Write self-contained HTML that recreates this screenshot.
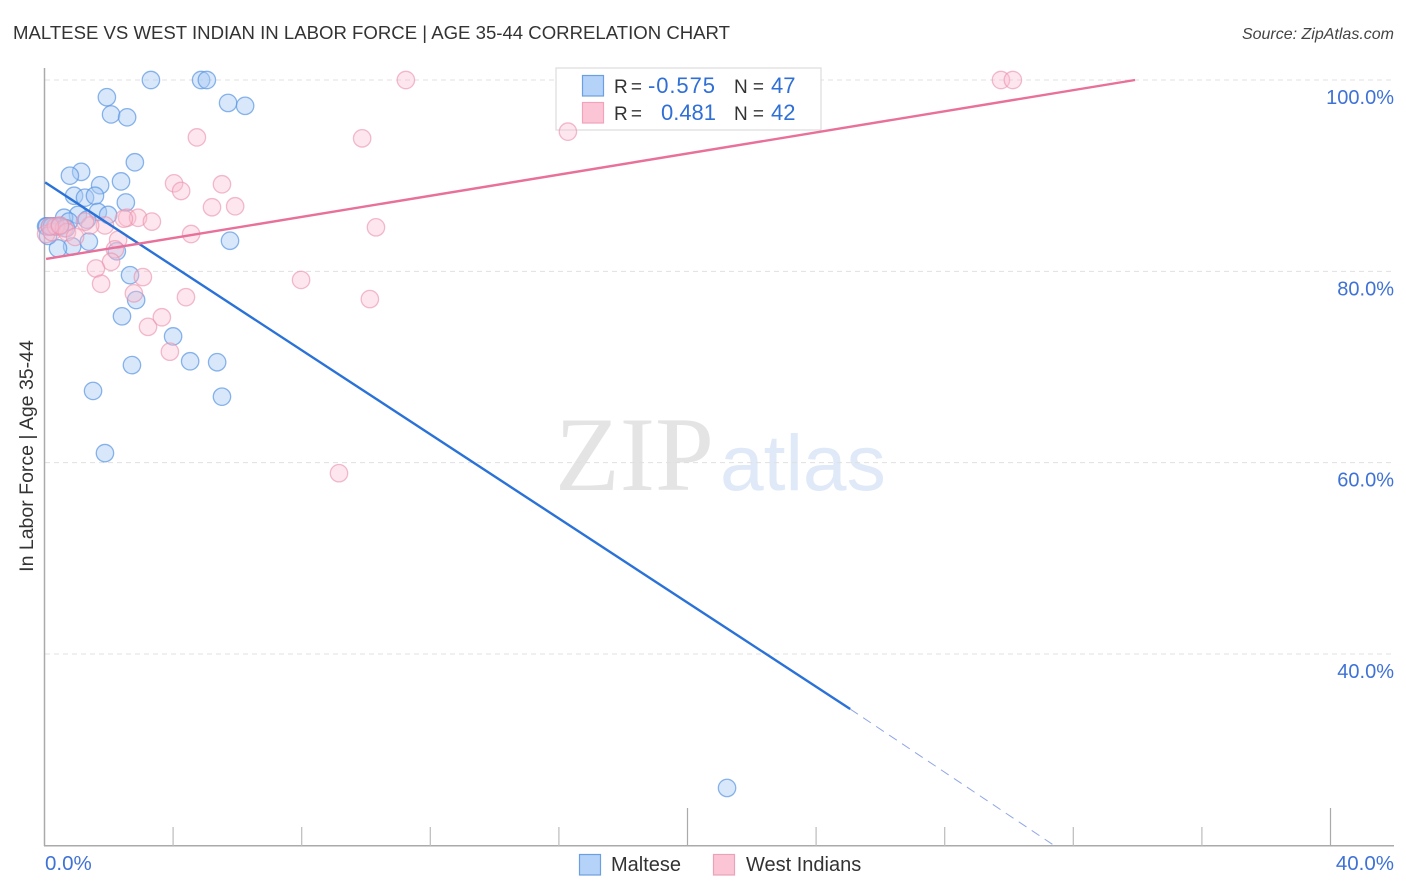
<!DOCTYPE html>
<html lang="en">
<head>
<meta charset="utf-8">
<title>Maltese vs West Indian in Labor Force | Age 35-44 Correlation Chart</title>
<style>
html,body{margin:0;padding:0;background:#fff;}
svg{display:block;}
text{font-family:"Liberation Sans",sans-serif;}
</style>
</head>
<body>
<svg id="chart" width="1406" height="892" viewBox="0 0 1406 892" xmlns="http://www.w3.org/2000/svg">
  <rect x="0" y="0" width="1406" height="892" fill="#ffffff"/>
  <text x="13" y="39" font-size="18.6" fill="#333333" textLength="717" lengthAdjust="spacing">MALTESE VS WEST INDIAN IN LABOR FORCE | AGE 35-44 CORRELATION CHART</text>
  <text x="1394" y="39" font-size="16" font-style="italic" fill="#444444" text-anchor="end">Source: ZipAtlas.com</text>
  <text x="555" y="490" font-size="106" fill="#e4e4e4" style="font-family:'Liberation Serif',serif">ZIP</text>
  <text x="720" y="490" font-size="78.5" fill="#dfe9f8">atlas</text>
  <g id="grid"></g>
  <g id="axes"></g>

  <g>
    <rect x="556" y="68" width="265" height="62" fill="#ffffff" stroke="#dddddd" stroke-width="1.2"/>
    <rect x="582.5" y="75.5" width="21" height="20.5" fill="#b5d2f9" stroke="#6a9fe0" stroke-width="1.2"/>
    <rect x="582.5" y="102.5" width="21" height="20.5" fill="#fcc5d6" stroke="#f0a3bb" stroke-width="1.2"/>
    <text x="614" y="93" font-size="19" fill="#333333" textLength="28">R =</text>
    <text x="648" y="93" font-size="22" fill="#2f6fd6" textLength="67">-0.575</text>
    <text x="734" y="93" font-size="19" fill="#333333" textLength="30">N =</text>
    <text x="771" y="93" font-size="22" fill="#2f6fd6">47</text>
    <text x="614" y="120" font-size="19" fill="#333333" textLength="28">R =</text>
    <text x="661" y="120" font-size="22" fill="#2f6fd6" textLength="55">0.481</text>
    <text x="734" y="120" font-size="19" fill="#333333" textLength="30">N =</text>
    <text x="771" y="120" font-size="22" fill="#2f6fd6">42</text>
  </g>

  <g id="maltese"></g>
  <g id="west"></g>
  <g id="trends"></g>
  <text transform="translate(33,456) rotate(-90)" font-size="19.5" fill="#333333" text-anchor="middle">In Labor Force | Age 35-44</text>

  <g>
    <rect x="579.5" y="854.5" width="21" height="20.5" fill="#b5d2f9" stroke="#6a9fe0" stroke-width="1.2"/>
    <text x="611" y="871" font-size="20" fill="#333333">Maltese</text>
    <rect x="713.5" y="854.5" width="21" height="20.5" fill="#fcc5d6" stroke="#e9a3b8" stroke-width="1.2"/>
    <text x="746" y="871" font-size="20" fill="#333333">West Indians</text>
  </g>
</svg>
<script>
var malteseX = [3.31,4.87,5.05,1.94,2.07,2.57,5.71,6.24,2.81,1.14,0.79,2.38,1.73,0.92,1.26,1.57,2.53,1.66,1.98,1.04,0.61,1.32,0.76,0.05,0.17,0.33,0.08,0.23,0.48,0.67,5.77,1.38,0.86,0.42,2.25,2.66,2.85,2.41,4.0,2.72,4.53,5.37,1.51,5.52,1.88,21.23,0.11];
var malteseY = [100,100,100,98.2,96.4,96.1,97.6,97.3,91.4,90.4,90.0,89.4,89.0,87.9,87.7,87.9,87.2,86.2,85.9,85.9,85.6,85.4,85.2,84.7,84.7,84.7,84.7,84.7,84.7,84.5,83.2,83.1,82.6,82.4,82.1,79.6,77.0,75.3,73.2,70.2,70.6,70.5,67.5,66.9,61.0,26.0,83.7];
var westX = [11.24,29.75,30.12,4.74,9.88,16.28,4.03,4.25,5.52,5.21,5.93,2.57,2.91,3.34,2.47,10.31,4.56,1.88,1.42,2.29,2.19,2.07,1.60,1.76,3.06,2.78,4.40,7.98,10.12,3.22,3.65,3.90,9.16,0.05,0.23,0.36,0.61,0.70,0.95,1.26,0.17,0.48];
var westY = [100,100,100,94.0,93.9,94.6,89.2,88.4,89.1,86.7,86.8,85.6,85.6,85.2,85.5,84.6,83.9,84.8,84.8,83.3,82.3,81.0,80.3,78.7,79.4,77.7,77.3,79.1,77.1,74.2,75.2,71.6,58.9,83.9,84.1,84.7,84.5,84.1,83.6,85.2,84.7,84.8];
var malteseTrendX = [0.02,25.06];
var malteseTrendY = [89.3,34.25];
var malteseDashX = [25.06,31.43];
var malteseDashY = [34.25,19.93];
var westTrendX = [0.05,33.92];
var westTrendY = [81.3,100];
var yTicks = [100,80,60,40];
var yTickLabels = ["100.0%","80.0%","60.0%","40.0%"];
var xTicks = [4,8,12,16,20,24,28,32,36,40];
var xEndLabels = ["0.0%","40.0%"];

var NS = "http://www.w3.org/2000/svg";
function xScale(v){ return 44.5 + v * 32.15; }
function yScale(v){ return 80 + (100 - v) * 9.567; }
function make(tag, parent, attrs){
  var el = document.createElementNS(NS, tag);
  for (var k in attrs){ el.setAttribute(k, attrs[k]); }
  parent.appendChild(el);
  return el;
}
var grid = document.getElementById("grid");
var axes = document.getElementById("axes");

yTicks.forEach(function(t, i){
  var gl = make("line", grid, {x1:45, x2:1394, y1:yScale(t), y2:yScale(t), stroke:"#e0e0e0", "stroke-width":1, "stroke-dasharray":"5 4"});
  
  
  var lb = make("text", axes, {x:1394, y:yScale(t) + 24, "font-size":20, fill:"#3f72d6", "text-anchor":"end"});
  lb.textContent = yTickLabels[i];
  
  
});

var yAxis = make("line", axes, {x1:44.5, x2:44.5, y1:68, y2:846, stroke:"#aaaaaa", "stroke-width":1.5});


var xAxis = make("line", axes, {x1:44, x2:1394, y1:845.7, y2:845.7, stroke:"#aaaaaa", "stroke-width":1.5});



xTicks.forEach(function(t){
  var tall = (t === 20 || t === 40);
  var tk = make("line", axes, {x1:xScale(t), x2:xScale(t), y1:tall ? 808 : 827, y2:846, stroke:tall ? "#aaaaaa" : "#bbbbbb", "stroke-width":1.2});
  
  
});

var x0 = make("text", axes, {x:45, y:870, "font-size":20.5, fill:"#3f72d6"});
x0.textContent = xEndLabels[0];


var x1 = make("text", axes, {x:1394, y:870, "font-size":20.5, fill:"#3f72d6", "text-anchor":"end"});
x1.textContent = xEndLabels[1];



var mg = document.getElementById("maltese");
malteseX.forEach(function(v, i){
  var c = make("circle", mg, {cx:xScale(v), cy:yScale(malteseY[i]), r:8.7, fill:"#a9caf5", "fill-opacity":0.45, stroke:"#5a95e2", "stroke-opacity":0.7, "stroke-width":1.3});
  
  
});
var wg = document.getElementById("west");
westX.forEach(function(v, i){
  var c = make("circle", wg, {cx:xScale(v), cy:yScale(westY[i]), r:8.7, fill:"#f9bccf", "fill-opacity":0.38, stroke:"#ea8fab", "stroke-opacity":0.6, "stroke-width":1.3});
  
  
});

var tg = document.getElementById("trends");
var t1 = make("line", tg, {x1:xScale(malteseTrendX[0]), y1:yScale(malteseTrendY[0]), x2:xScale(malteseTrendX[1]), y2:yScale(malteseTrendY[1]), stroke:"#2a72d8", "stroke-width":2.4});


var t2 = make("line", tg, {x1:xScale(malteseDashX[0]), y1:yScale(malteseDashY[0]), x2:xScale(malteseDashX[1]), y2:yScale(malteseDashY[1]), stroke:"#8fa6e6", "stroke-width":1, "stroke-dasharray":"9.3 6.3"});


var t3 = make("line", tg, {x1:xScale(westTrendX[0]), y1:yScale(westTrendY[0]), x2:xScale(westTrendX[1]), y2:yScale(westTrendY[1]), stroke:"#e8709a", "stroke-width":2.4});


</script>
</body>
</html>
